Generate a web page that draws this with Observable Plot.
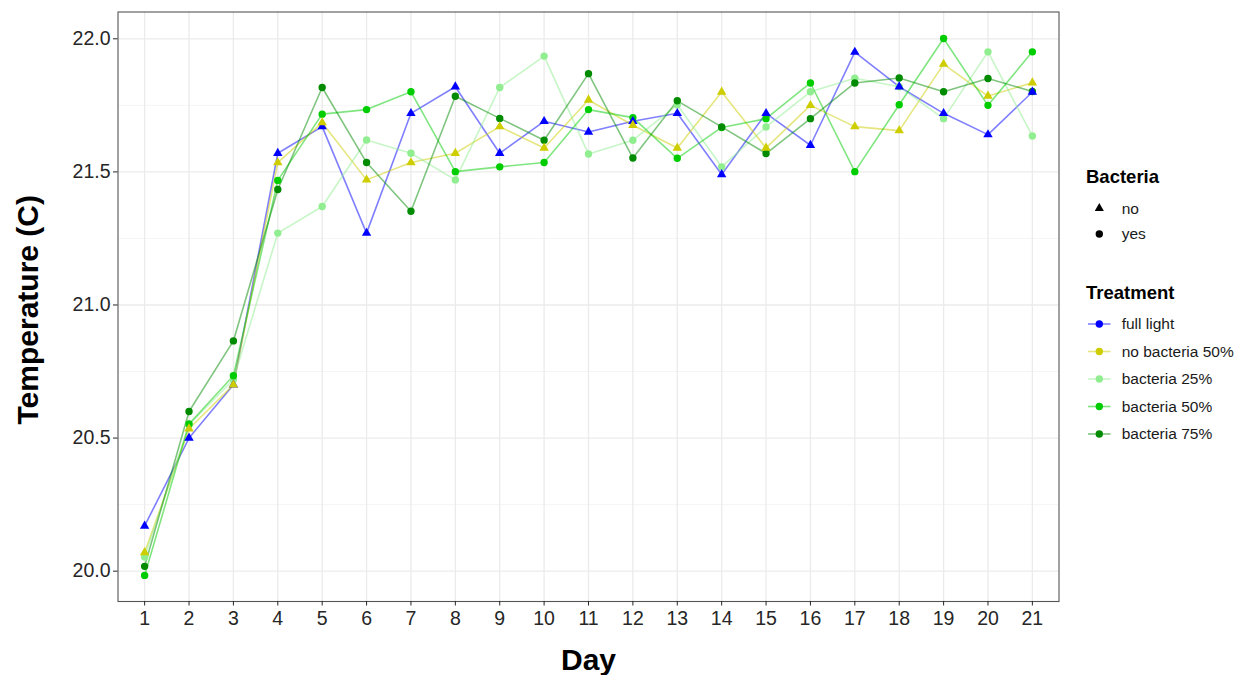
<!DOCTYPE html>
<html><head><meta charset="utf-8">
<script src="https://cdn.jsdelivr.net/npm/d3@7"></script>
<script src="https://cdn.jsdelivr.net/npm/@observablehq/plot@0.6"></script>
<style>
body{margin:0;background:#fff;font-family:"Liberation Sans",Arial,sans-serif}
#wrap{position:relative;width:1246px;height:675px}
#legend{position:absolute;left:0;top:0;pointer-events:none}
</style>
</head><body><div id="wrap"></div>
<script>
const days = [1,2,3,4,5,6,7,8,9,10,11,12,13,14,15,16,17,18,19,20,21];
const treatments = ["full light","no bacteria 50%","bacteria 25%","bacteria 50%","bacteria 75%"];
const bacteriaOf = ["no","no","yes","yes","yes"];
const colors = ["#0000FF","#CDCD00","#90EE90","#00CD00","#008B00"];
const bacteriaLevels = ["no","yes"];

const fullLight    = [20.17,20.50,20.70,21.57,21.67,21.27,21.72,21.82,21.57,21.69,21.65,21.69,21.72,21.49,21.72,21.60,21.95,21.82,21.72,21.64,21.80];
const noBact50     = [20.07,20.535,20.70,21.535,21.685,21.47,21.535,21.57,21.67,21.59,21.77,21.675,21.59,21.80,21.59,21.75,21.67,21.655,21.905,21.785,21.835];
const bact25       = [20.053,20.55,20.72,21.27,21.37,21.62,21.57,21.47,21.817,21.935,21.567,21.619,21.752,21.519,21.669,21.801,21.852,21.82,21.70,21.951,21.635];
const bact50       = [19.984,20.553,20.734,21.468,21.717,21.734,21.801,21.501,21.519,21.535,21.734,21.704,21.551,21.667,21.70,21.834,21.501,21.752,22.001,21.75,21.951];
const bact75       = [20.018,20.60,20.865,21.434,21.817,21.535,21.352,21.784,21.701,21.619,21.869,21.552,21.767,21.669,21.569,21.70,21.834,21.853,21.801,21.851,21.802];

const yMajor = [20.0,20.5,21.0,21.5,22.0];
const yMinor = [20.25,20.75,21.25,21.75];

const series = [fullLight,noBact50,bact25,bact50,bact75];
const data = treatments.flatMap((t,i)=>days.map((d,j)=>({day:d,temp:series[i][j],treatment:t,bacteria:bacteriaOf[i]})));
const circles = data.filter(d=>d.bacteria==="yes");
const triangles = data.filter(d=>d.bacteria==="no");

const W = 1246, H = 675;
const pLeft = 117.5, pRight = 1058.5, pTop = 11.5, pBottom = 601;

const chart = Plot.plot({
  width: W, height: H,
  marginLeft: pLeft, marginRight: W-pRight, marginTop: pTop, marginBottom: H-pBottom,
  style: {fontFamily:"'Liberation Sans', Arial, sans-serif", background:"#fff", overflow:"visible"},
  x: {type:"linear", domain:[0.4,21.6], axis:null},
  y: {domain:[19.886,22.1007], axis:null},
  color: {domain:treatments, range:colors},
  symbol: {domain:bacteriaLevels, range:["triangle","circle"]},
  marks: [
    Plot.gridY(yMinor, {stroke:"#f3f3f3", strokeOpacity:1, strokeWidth:0.8}),
    Plot.gridY(yMajor, {stroke:"#ebebeb", strokeOpacity:1, strokeWidth:1.3}),
    Plot.gridX(days, {stroke:"#ebebeb", strokeOpacity:1, strokeWidth:1.3}),
    Plot.line(data, {x:"day", y:"temp", z:"treatment", stroke:"treatment", strokeOpacity:0.5, strokeWidth:1.6}),
    Plot.dot(circles, {x:"day", y:"temp", fill:"treatment", symbol:"bacteria", r:3.7}),
    Plot.dot(triangles, {x:"day", y:"temp", fill:"treatment", symbol:"bacteria", r:3.5}),
    Plot.frame({stroke:"#555", strokeWidth:1.1}),
    Plot.axisX(days, {tickSize:4.5, tickPadding:5, fontSize:19.5, color:"#262626", label:null, tickFormat:d=>String(d)}),
    Plot.axisY(yMajor, {tickSize:4.5, tickPadding:3, fontSize:19.5, color:"#262626", label:null, tickFormat:d=>d.toFixed(1)}),
    Plot.text(["Day"], {frameAnchor:"bottom", dy:59, fontSize:30, fontWeight:"bold", fill:"#000", lineAnchor:"middle", textAnchor:"middle"}),
    Plot.text(["Temperature (C)"], {frameAnchor:"left", dx:-89.5, dy:3, rotate:-90, fontSize:30, fontWeight:"bold", fill:"#000", lineAnchor:"middle", textAnchor:"middle"})
  ]
});
document.getElementById("wrap").appendChild(chart);

// Legend
const leg = d3.select("#wrap").append("svg").attr("id","legend").attr("width",W).attr("height",H)
  .style("font-family","'Liberation Sans', Arial, sans-serif");
leg.append("text").attr("x",1086).attr("y",176.3).attr("dy","0.35em").attr("font-size",18.5).attr("font-weight","bold").attr("fill","#000").text("Bacteria");
const bRows = [208.3, 234];
bacteriaLevels.forEach((b,i)=>{
  const y = bRows[i];
  const sym = b==="no" ? d3.symbolTriangle : d3.symbolCircle;
  const size = b==="no" ? Math.PI*3.4*3.4 : Math.PI*3.7*3.7;
  leg.append("path").attr("transform",`translate(1099.3,${y})`).attr("d",d3.symbol(sym,size)()).attr("fill","#000");
  leg.append("text").attr("x",1121.7).attr("y",y).attr("dy","0.35em").attr("font-size",15.5).attr("fill","#1a1a1a").text(b);
});
leg.append("text").attr("x",1086).attr("y",292.7).attr("dy","0.35em").attr("font-size",18.5).attr("font-weight","bold").attr("fill","#000").text("Treatment");
const tRows = [324,351.5,379,406.5,434];
treatments.forEach((t,i)=>{
  const y = tRows[i];
  leg.append("line").attr("x1",1088).attr("x2",1110.5).attr("y1",y).attr("y2",y).attr("stroke",colors[i]).attr("stroke-opacity",0.5).attr("stroke-width",1.6);
  leg.append("circle").attr("cx",1099.3).attr("cy",y).attr("r",3.7).attr("fill",colors[i]);
  leg.append("text").attr("x",1121.7).attr("y",y).attr("dy","0.35em").attr("font-size",15.5).attr("fill","#1a1a1a").text(t);
});
</script>
</body></html>
